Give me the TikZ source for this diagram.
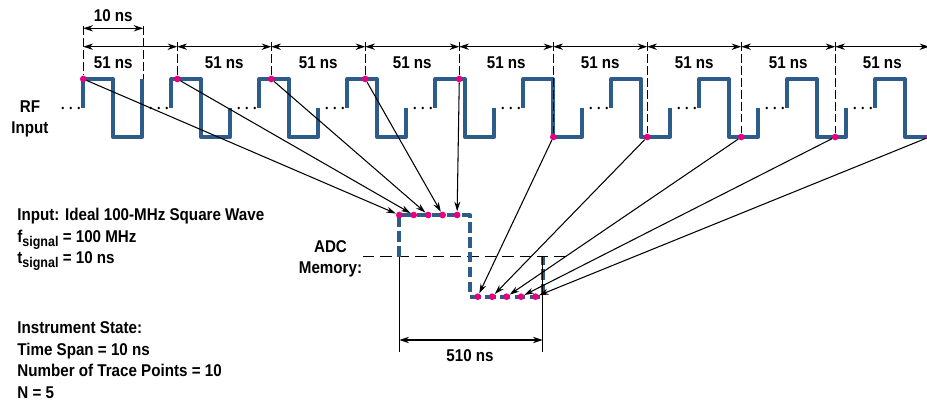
\documentclass[tikz,border=0pt]{standalone}
\usepackage{fontspec}
\setmainfont{Liberation Sans}[FakeStretch=0.89]
\usetikzlibrary{arrows.meta}
\definecolor{waveblue}{RGB}{46,92,138}
\definecolor{samplepink}{RGB}{230,0,126}
\newcommand{\lowsub}[1]{\raisebox{-0.45ex}{\fontsize{8}{8}\selectfont #1}}

\begin{document}
\begin{tikzpicture}[x=0.02cm, y=-0.02cm,
  wave/.style={waveblue, line width=2.2pt, line join=round},
  memtrace/.style={wave, dash pattern=on 6pt off 2.5pt},
  marker/.style={line width=0.6pt, dash pattern=on 5pt off 1.8pt},
  guide/.style={line width=0.6pt, dash pattern=on 6.5pt off 3.4pt},
  extline/.style={line width=0.6pt},
  dimarrow/.style={line width=0.6pt,
    {Stealth[length=5.5pt,width=3.6pt]}-{Stealth[length=5.5pt,width=3.6pt]}},
  samplearrow/.style={line width=0.6pt, -{Stealth[length=5.5pt,width=3.4pt]}},
  sampledot/.style={circle, fill=samplepink, inner sep=0pt, minimum size=3.8pt},
  label/.style={font=\fontsize{9.7}{12.2}\selectfont\bfseries, inner sep=0pt},
  textblock/.style={label, align=left, anchor=north west}
]
  \useasboundingbox (0,0) rectangle (927,402);

  % RF input: one piece of the square wave per sample, dots between
  \foreach \k in {0,...,9} {
    \pgfmathsetmacro{\s}{83.3+88*\k}
    \pgfmathsetmacro{\h}{\s+29.5}
    \pgfmathsetmacro{\e}{\s+59}
    \pgfmathsetmacro{\endy}{\k==0 ? 79 : 108}
    \draw[wave] (\s,108) -- (\s,79) -- (\h,79) -- (\h,137) -- (\e,137) -- (\e,\endy);
    \foreach \d in {4.5,12.5,20.5}
      \fill (\s-\d,108) circle (0.75pt);
  }

  % sample instants, 51 ns apart
  \foreach \k in {0,...,9} {
    \pgfmathsetmacro{\m}{83.3+94*\k}
    \pgfmathsetmacro{\lvl}{\k<5 ? 79 : 137}
    \pgfmathsetmacro{\top}{\k==0 ? 26 : 42}
    \coordinate (t\k) at (\m,46.7);
    \node[sampledot] (s\k) at (\m,\lvl) {};
    \draw[marker] (\m,\top) -- (s\k);
  }
  \foreach \k [evaluate=\k as \n using int(\k+1)] in {0,...,8}
    \draw[dimarrow] (t\k) -- (t\n);
  \node[label] (p0) at (113.3,63) {51 ns};
  \foreach \k in {1,...,8} {
    \pgfmathsetmacro{\c}{83.3+94*\k+47}
    \node[label] (p\k) at (\c,63) {51 ns};
  }

  % 10 ns period
  \coordinate (u0) at (83.3,28.3);
  \coordinate (u1) at (143.3,28.3);
  \draw[marker] (143.3,26) -- (143.3,79);
  \draw[dimarrow] (u0) -- (u1);
  \node[label] (tenns) at (113.3,16) {10 ns};

  \node[label, align=center] (rf) at (30,119) {RF\\Input};

  % ADC memory
  \draw[guide] (363,256.7) -- (570,256.7);
  \draw[memtrace] (399.3,256.7) -- (399.3,215) -- (470,215) -- (470,296.7)
    -- (542.7,296.7) -- (542.7,256.7);
  \foreach \k in {0,...,9} {
    \pgfmathsetmacro{\mx}{\k<5 ? 399.3+14.45*\k : 477.7+14.45*(\k-5)}
    \pgfmathsetmacro{\my}{\k<5 ? 215 : 296.7}
    \node[sampledot] (m\k) at (\mx,\my) {};
  }
  \foreach \k in {0,...,9}
    \draw[samplearrow] (s\k) -- (m\k);

  \node[label, align=center] (adc) at (330.5,259) {ADC\\Memory:};

  % 510 ns span
  \coordinate (d0) at (399.3,340);
  \coordinate (d1) at (542.7,340);
  \draw[extline] (399.3,256.7) -- (399.3,351.5);
  \draw[extline] (542.7,256.7) -- (542.7,351.5);
  \draw[dimarrow] (d0) -- (d1);
  \node[label] (span) at (470,356) {510 ns};

  % test conditions
  \node[textblock] (input) at (17,208) {Input: Ideal 100-MHz Square Wave\\
    f\lowsub{signal} = 100 MHz\\
    t\lowsub{signal} = 10 ns};
  \node[textblock] (state) at (17,321.7) {Instrument State:\\
    Time Span = 10 ns\\
    Number of Trace Points = 10\\
    N = 5};
\end{tikzpicture}
\end{document}
